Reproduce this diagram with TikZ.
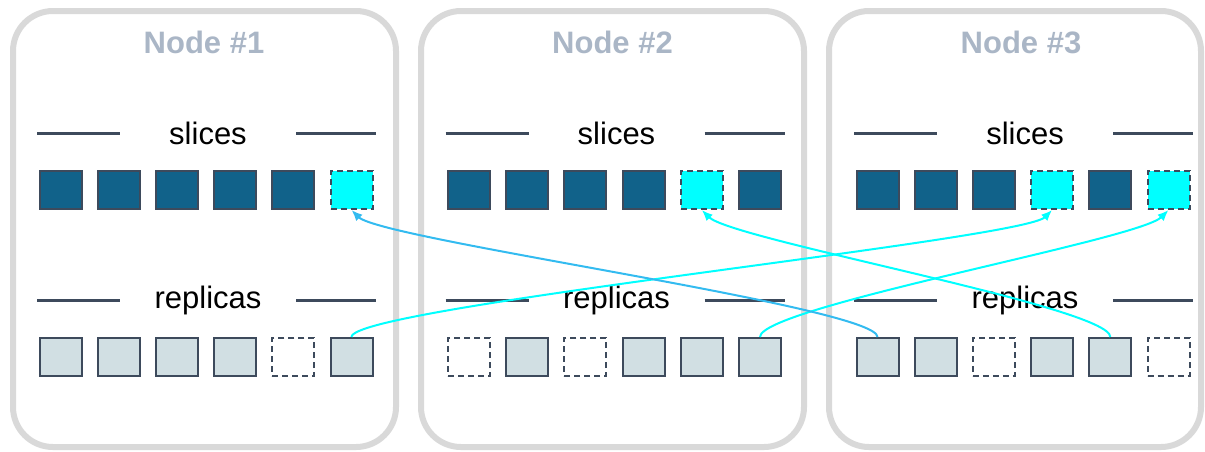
\documentclass[tikz,border=0pt]{standalone}
\usepackage{fontspec}
\setmainfont{Liberation Sans}
\usetikzlibrary{arrows.meta}
\definecolor{boxgray}{HTML}{D9D9D9}
\definecolor{titlegray}{HTML}{AAB6C6}
\definecolor{slate}{HTML}{3D4A5C}
\definecolor{slicefill}{HTML}{11628A}
\definecolor{replicafill}{HTML}{D1DFE3}
\definecolor{movecyan}{HTML}{00FFFF}
\definecolor{moveblue}{HTML}{33BBF0}
\tikzset{
  nodebox/.style={draw=boxgray,line width=6pt,rounded corners=40pt},
  nodetitle/.style={font=\fontsize{31}{36}\selectfont\bfseries,text=titlegray},
  rowlabel/.style={font=\fontsize{31}{36}\selectfont},
  sepline/.style={draw=slate,line width=3pt},
  sq/.style={draw=slate,line width=2pt,minimum width=42pt,minimum height=38pt,inner sep=0pt},
  slice/.style={sq,fill=slicefill},
  moved/.style={sq,fill=movecyan,dash pattern=on 6pt off 4pt},
  replica/.style={sq,fill=replicafill},
  gap/.style={sq,fill=white,dash pattern=on 6pt off 4pt},
  link/.style={line width=2pt,-{Latex[length=11pt,width=9pt]}}
}
\begin{document}
\begin{tikzpicture}[x=1pt,y=1pt]
  \useasboundingbox (0,0) rectangle (1205,-451);
  % cluster nodes
  \draw[nodebox] (13,-11) rectangle (396,-447);
  \draw[nodebox] (421,-11) rectangle (804,-447);
  \draw[nodebox] (829,-11) rectangle (1201,-447);
  % titles, row labels
  \foreach \k/\ox in {1/0,2/408.5,3/817}{
    \node[nodetitle] (title\k) at ({204+\ox},-42) {Node \#\k};
    \node[rowlabel] (slab\k) at ({208+\ox},-133) {slices};
    \node[rowlabel] (rlab\k) at ({208+\ox},-300) {replicas};
    \draw[sepline] ({37+\ox},-133) -- ({120+\ox},-133) ({296+\ox},-133) -- ({376+\ox},-133);
    \draw[sepline] ({37+\ox},-300) -- ({120+\ox},-300) ({296+\ox},-300) -- ({376+\ox},-300);
  }
  % squares
  \foreach \k/\r/\y/\a/\b/\c/\d/\e/\f in {
      1/s/-190/slice/slice/slice/slice/slice/moved,
      1/r/-357/replica/replica/replica/replica/gap/replica,
      2/s/-190/slice/slice/slice/slice/moved/slice,
      2/r/-357/gap/replica/gap/replica/replica/replica,
      3/s/-190/slice/slice/slice/moved/slice/moved,
      3/r/-357/replica/replica/gap/replica/replica/gap}
    \foreach \i/\st in {1/\a,2/\b,3/\c,4/\d,5/\e,6/\f}
      \node[\st] (n\k\r\i) at ({60.5+408.5*(\k-1)+58.2*(\i-1)},\y) {};
  % moves
  \draw[link,movecyan] (n1r6.north) .. controls +(0,30) and +(-30,-30) .. (n3s4.south);
  \draw[link,movecyan] (n2r6.north) .. controls +(0,30) and +(-30,-30) .. (n3s6.south);
  \draw[link,moveblue] (n3r1.north) .. controls +(0,30) and +(30,-30) .. (n1s6.south);
  \draw[link,movecyan] (n3r5.north) .. controls +(0,30) and +(30,-30) .. (n2s5.south);
\end{tikzpicture}
\end{document}
